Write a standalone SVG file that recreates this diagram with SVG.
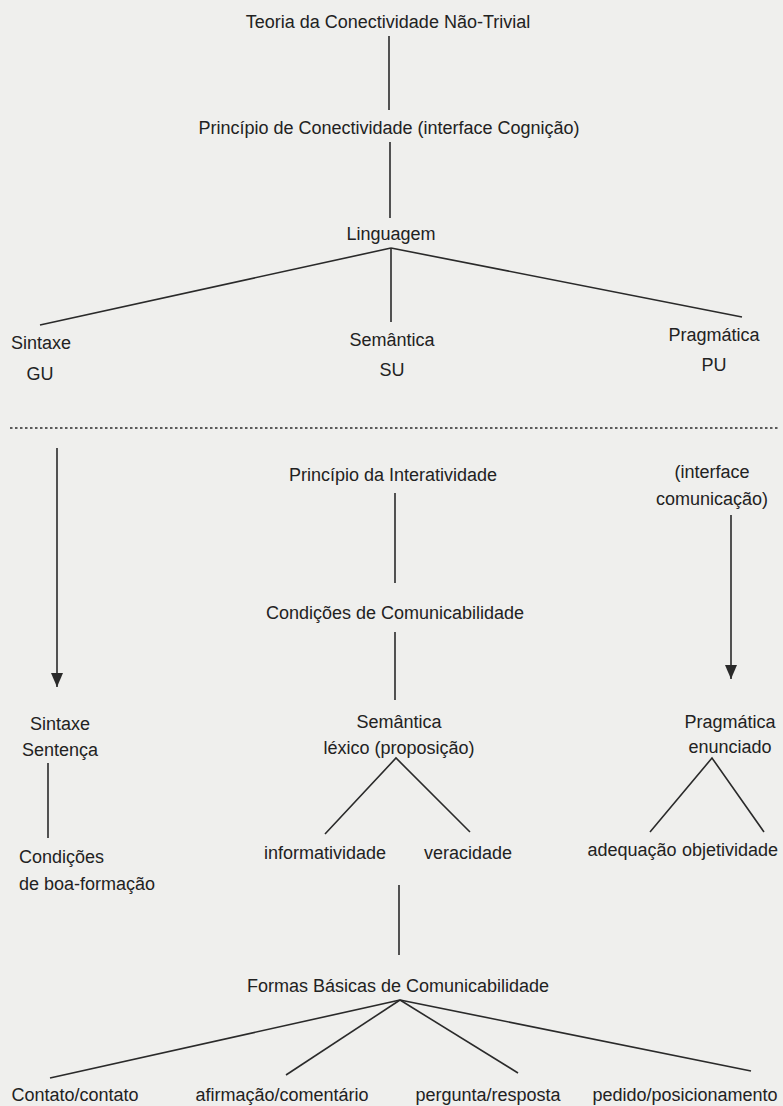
<svg xmlns="http://www.w3.org/2000/svg" width="783" height="1106" viewBox="0 0 783 1106">
<defs>
<style>
text{font-family:"Liberation Sans",Arial,sans-serif;font-size:18px;fill:#222;text-anchor:middle}
.l{text-anchor:start}
.c line,.c polyline{stroke:#2a2a2a;stroke-width:1.6;fill:none}
.dot{stroke-dasharray:2.5,2.5;stroke-width:2}
</style>
<marker id="arr" markerUnits="userSpaceOnUse" markerWidth="16" markerHeight="14" viewBox="0 0 16 14" refX="15" refY="7" orient="auto">
<path d="M1,1 L15,7 L1,13 Z" fill="#2a2a2a"/>
</marker>
</defs>
<rect width="783" height="1106" fill="#efefed"/>
<g class="c" id="connectors">
<line x1="389" y1="36" x2="389" y2="110"/>
<line x1="390" y1="142" x2="390" y2="218"/>
<line x1="391" y1="248" x2="40" y2="325"/>
<line x1="391" y1="248" x2="391" y2="322"/>
<line x1="391" y1="248" x2="742" y2="317"/>
<line class="dot" x1="10" y1="428" x2="778" y2="428"/>
<line x1="57" y1="448" x2="57" y2="687" marker-end="url(#arr)"/>
<line x1="395" y1="493" x2="395" y2="583"/>
<line x1="731" y1="515" x2="731" y2="679" marker-end="url(#arr)"/>
<line x1="395" y1="632" x2="395" y2="700"/>
<line x1="48" y1="763" x2="48" y2="838"/>
<polyline points="325,834 396,758 470,832"/>
<polyline points="650,832 712,758 764,832"/>
<line x1="399" y1="885" x2="399" y2="955"/>
<line x1="400" y1="1000" x2="50" y2="1078"/>
<line x1="400" y1="1000" x2="286" y2="1075"/>
<line x1="400" y1="1000" x2="518" y2="1073"/>
<line x1="400" y1="1000" x2="751" y2="1071"/>
</g>
<g id="teoria"><text x="388" y="28">Teoria da Conectividade Não-Trivial</text></g>
<g id="principio-conectividade"><text x="389" y="134">Princípio de Conectividade (interface Cognição)</text></g>
<g id="linguagem"><text x="391" y="240">Linguagem</text></g>
<g id="sintaxe-gu"><text x="41" y="349">Sintaxe</text><text x="40" y="380">GU</text></g>
<g id="semantica-su"><text x="392" y="346">Semântica</text><text x="392" y="376">SU</text></g>
<g id="pragmatica-pu"><text x="714" y="341">Pragmática</text><text x="714" y="371">PU</text></g>
<g id="principio-interatividade"><text x="393" y="481">Princípio da Interatividade</text></g>
<g id="interface-comunicacao"><text x="712" y="478">(interface</text><text x="712" y="505">comunicação)</text></g>
<g id="condicoes-comunicabilidade"><text x="395" y="619">Condições de Comunicabilidade</text></g>
<g id="sintaxe-sentenca"><text x="60" y="730">Sintaxe</text><text x="60" y="756">Sentença</text></g>
<g id="semantica-lexico"><text x="399" y="728">Semântica</text><text x="399" y="754">léxico (proposição)</text></g>
<g id="pragmatica-enunciado"><text x="730" y="728">Pragmática</text><text x="730" y="753">enunciado</text></g>
<g id="condicoes-boa-formacao"><text class="l" x="19" y="863">Condições</text><text class="l" x="19" y="890">de boa-formação</text></g>
<g id="informatividade"><text x="325" y="859">informatividade</text></g>
<g id="veracidade"><text x="468" y="859">veracidade</text></g>
<g id="adequacao"><text x="632" y="856">adequação</text></g>
<g id="objetividade"><text x="730" y="856">objetividade</text></g>
<g id="formas-basicas"><text x="398" y="992">Formas Básicas de Comunicabilidade</text></g>
<g id="contato"><text x="75" y="1101">Contato/contato</text></g>
<g id="afirmacao"><text x="282" y="1101">afirmação/comentário</text></g>
<g id="pergunta"><text x="488" y="1101">pergunta/resposta</text></g>
<g id="pedido"><text x="685" y="1101">pedido/posicionamento</text></g>
</svg>
